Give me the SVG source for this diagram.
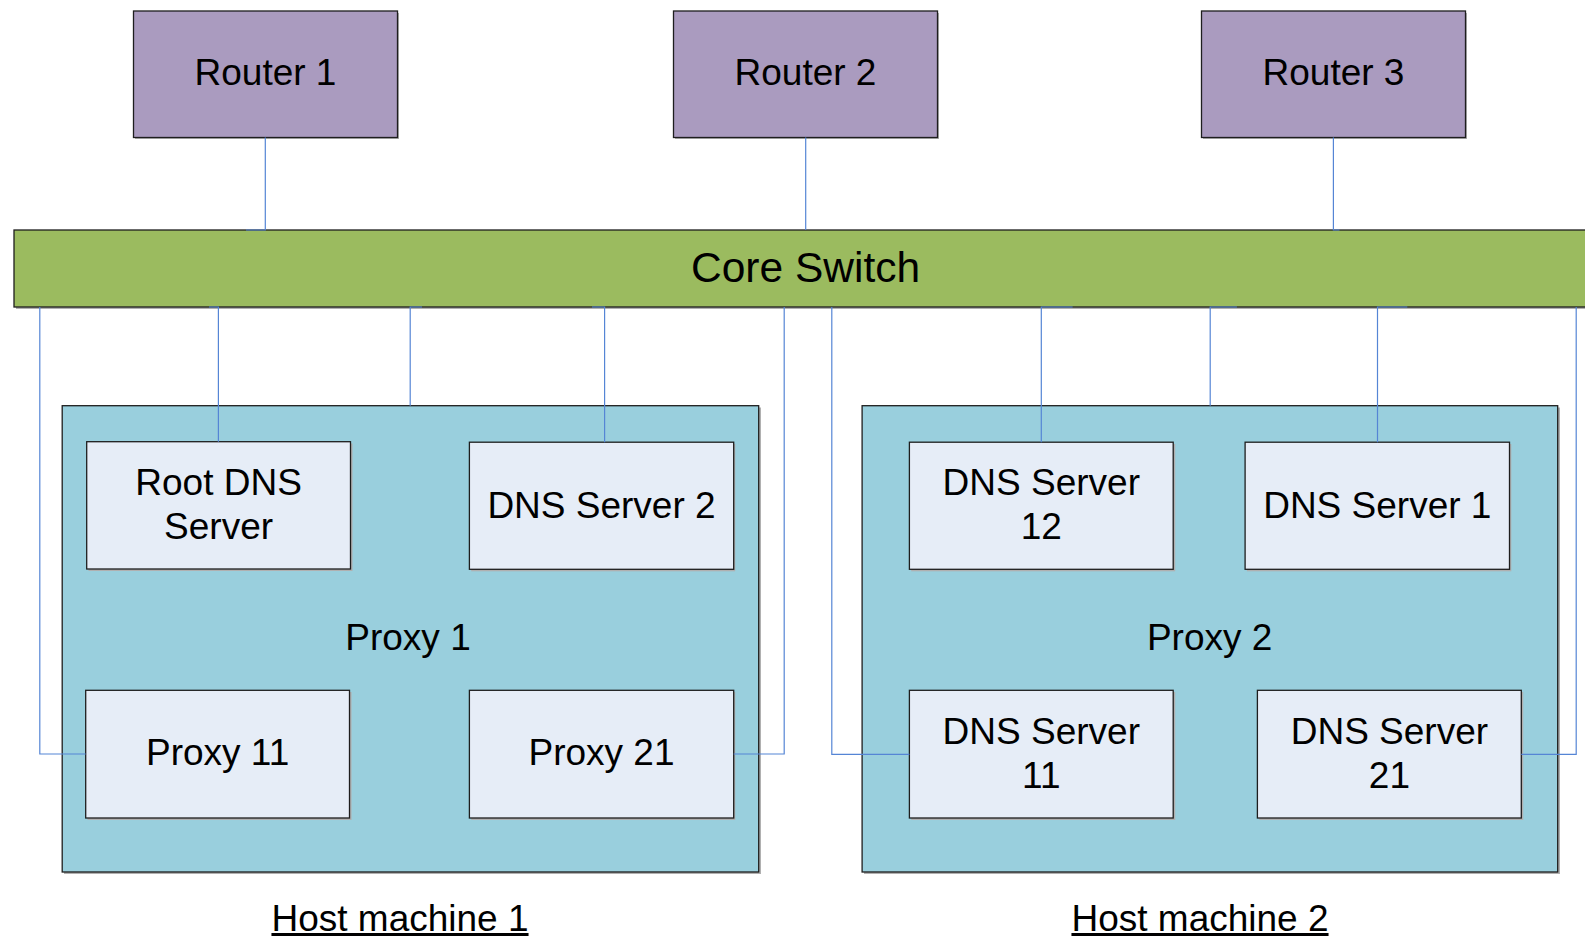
<svg xmlns="http://www.w3.org/2000/svg" width="1585" height="936" viewBox="0 0 1585 936">
  <style>
    .shadow { fill: #b0b0b0; stroke: none; }
    .box { stroke: #1e1e1e; stroke-width: 1.3; }
    .router { fill: #aa9bbf; }
    .switch { fill: #9bbb5f; }
    .host { fill: #99cfdd; }
    .inner { fill: #e6edf7; }
    .lbl { font-family: "Liberation Sans", Arial, sans-serif; font-size: 37px; fill: #000; text-anchor: middle; }
    .big { font-size: 42.5px; }
    .ul { text-decoration: underline; }
    .wire { fill: none; stroke: #5585d5; stroke-width: 1.2; }
  </style>
  <rect width="1585" height="936" fill="#ffffff"/>

  <!-- routers -->
  <g id="router1">
    <rect class="shadow" x="135" y="13" width="264" height="126"/>
    <rect class="box router" x="133.5" y="11" width="264" height="126.5"/>
    <text class="lbl" x="265.5" y="85">Router 1</text>
  </g>
  <g id="router2">
    <rect class="shadow" x="675" y="13" width="264" height="126"/>
    <rect class="box router" x="673.5" y="11" width="264" height="126.5"/>
    <text class="lbl" x="805.5" y="85">Router 2</text>
  </g>
  <g id="router3">
    <rect class="shadow" x="1203" y="13" width="264" height="126"/>
    <rect class="box router" x="1201.5" y="11" width="264" height="126.5"/>
    <text class="lbl" x="1333.5" y="85">Router 3</text>
  </g>

  <!-- core switch -->
  <g id="core-switch">
    <rect class="shadow" x="16" y="232" width="1600" height="77"/>
    <rect class="box switch" x="14" y="230" width="1600" height="77"/>
    <text class="lbl big" x="805.6" y="282">Core Switch</text>
  </g>

  <!-- host machines -->
  <g id="host1">
    <rect class="shadow" x="64" y="407.5" width="697" height="466.5"/>
    <rect class="box host" x="62.2" y="405.7" width="696.5" height="466.3"/>
    <text class="lbl" x="408" y="650">Proxy 1</text>
  </g>
  <g id="host2">
    <rect class="shadow" x="864" y="407.5" width="696" height="466.5"/>
    <rect class="box host" x="862.1" y="405.7" width="695.6" height="466.3"/>
    <text class="lbl" x="1209.6" y="650">Proxy 2</text>
  </g>

  <!-- servers on host 1 -->
  <g id="root-dns">
    <rect class="shadow" x="88.5" y="443.5" width="264" height="127.5"/>
    <rect class="box inner" x="86.7" y="441.7" width="263.8" height="127.3"/>
    <text class="lbl" x="218.6" y="494.5">Root DNS</text>
    <text class="lbl" x="218.6" y="538.5">Server</text>
  </g>
  <g id="dns-server-2">
    <rect class="shadow" x="471.2" y="444" width="264" height="127.3"/>
    <rect class="box inner" x="469.4" y="442.2" width="264.3" height="127.1"/>
    <text class="lbl" x="601.5" y="517.5">DNS Server 2</text>
  </g>
  <g id="proxy-11">
    <rect class="shadow" x="87.5" y="692" width="264" height="128"/>
    <rect class="box inner" x="85.7" y="690.3" width="263.8" height="127.7"/>
    <text class="lbl" x="217.6" y="764.5">Proxy 11</text>
  </g>
  <g id="proxy-21">
    <rect class="shadow" x="471.2" y="692" width="264" height="128"/>
    <rect class="box inner" x="469.4" y="690.3" width="264.3" height="127.7"/>
    <text class="lbl" x="601.5" y="764.5">Proxy 21</text>
  </g>

  <!-- servers on host 2 -->
  <g id="dns-server-12">
    <rect class="shadow" x="911.2" y="444" width="264" height="127.3"/>
    <rect class="box inner" x="909.4" y="442.2" width="263.8" height="127.1"/>
    <text class="lbl" x="1041.3" y="494.5">DNS Server</text>
    <text class="lbl" x="1041.3" y="538.5">12</text>
  </g>
  <g id="dns-server-1">
    <rect class="shadow" x="1246.9" y="444" width="264.4" height="127.3"/>
    <rect class="box inner" x="1245.1" y="442.2" width="264.4" height="127.1"/>
    <text class="lbl" x="1377.3" y="517.5">DNS Server 1</text>
  </g>
  <g id="dns-server-11">
    <rect class="shadow" x="911.2" y="692" width="264" height="128"/>
    <rect class="box inner" x="909.4" y="690.3" width="263.8" height="127.7"/>
    <text class="lbl" x="1041.3" y="743.5">DNS Server</text>
    <text class="lbl" x="1041.3" y="787.5">11</text>
  </g>
  <g id="dns-server-21">
    <rect class="shadow" x="1259.2" y="692" width="264" height="128"/>
    <rect class="box inner" x="1257.4" y="690.3" width="263.9" height="127.7"/>
    <text class="lbl" x="1389.4" y="743.5">DNS Server</text>
    <text class="lbl" x="1389.4" y="787.5">21</text>
  </g>

  <!-- machine captions -->
  <g id="caption-host1">
    <text class="lbl ul" x="400" y="931">Host machine 1</text>
  </g>
  <g id="caption-host2">
    <text class="lbl ul" x="1200" y="931">Host machine 2</text>
  </g>

  <!-- connectors -->
  <g id="connectors" class="wire">
    <!-- routers to switch -->
    <path d="M265.3 137.5 V230 H246"/>
    <path d="M805.7 137.5 V230"/>
    <path d="M1333.4 137.5 V230 H1339.5"/>
    <!-- switch to host 1 -->
    <path d="M39.8 307 V754 H85.7"/>
    <path d="M209 307 H218.4 V441.7"/>
    <path d="M422 307 H410.2 V405.7"/>
    <path d="M592 307 H604.6 V442.2"/>
    <path d="M784.2 307 V754 H733.7"/>
    <!-- switch to host 2 -->
    <path d="M831.8 307 V754.3 H909.4"/>
    <path d="M1072.6 307 H1041.3 V442.2"/>
    <path d="M1236.9 307 H1210.2 V405.7"/>
    <path d="M1407.3 307 H1377.5 V442.2"/>
    <path d="M1576.2 307 V754.3 H1521.3"/>
  </g>
</svg>
